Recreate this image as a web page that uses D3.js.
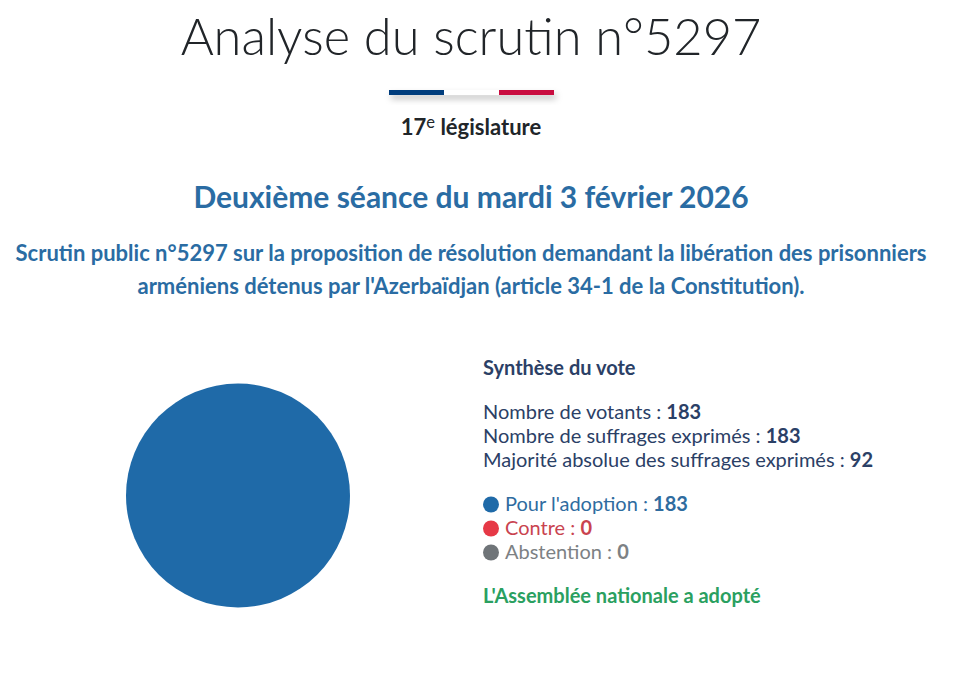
<!DOCTYPE html>
<html>
<head>
<meta charset="utf-8">
<script src="https://cdn.jsdelivr.net/npm/d3@7"></script>
<style>
html, body { margin: 0; background: #fff; }
svg { display: block; font-family: Lato, sans-serif; }
</style>
</head>
<body>
<div id="chart"></div>
<script>
// vote data
var voteLabels = ["Pour l'adoption", "Contre", "Abstention"];
var voteValues = [183, 0, 0];
var voteColors = ["#1f6aa8", "#e63946", "#6f7478"];
var voteTextColors = ["#2f6c9f", "#c9434f", "#7d8184"];

var synthLabels = ["Nombre de votants", "Nombre de suffrages exprimés", "Majorité absolue des suffrages exprimés"];
var synthValues = [183, 183, 92];

var flagColors = ["#023e7d", "#ffffff", "#c9093f"];

var svgWidth = 953;
var svgHeight = 694;

var svg = d3.select("#chart")
  .append("svg")
  .attr("width", svgWidth)
  .attr("height", svgHeight);

var defs = svg.append("defs");
var shadow = defs.append("filter").attr("id", "flagShadow")
  .attr("x", "-5%").attr("y", "-100%").attr("width", "110%").attr("height", "400%");
shadow.append("feDropShadow")
  .attr("dx", 2).attr("dy", 4).attr("stdDeviation", 3)
  .attr("flood-color", "#000").attr("flood-opacity", 0.25);

// title
svg.append("text")
  .attr("x", 471).attr("y", 55)
  .attr("text-anchor", "middle")
  .attr("font-size", 50.6)
  .attr("font-weight", 300)
  .attr("fill", "#212529")
  .text("Analyse du scrutin n°5297");

// little flag under the title
var flagX = d3.scaleBand().domain(d3.range(3)).range([389, 554]);
var flag = svg.append("g").attr("filter", "url(#flagShadow)");
flag.selectAll("rect")
  .data(flagColors)
  .enter()
  .append("rect")
  .attr("x", (d, i) => flagX(i))
  .attr("y", 90)
  .attr("width", flagX.bandwidth())
  .attr("height", 5)
  .attr("fill", d => d);

var legis = svg.append("text")
  .attr("x", 471).attr("y", 135)
  .attr("text-anchor", "middle")
  .attr("font-size", 22)
  .attr("font-weight", 700)
  .attr("fill", "#212529");
legis.append("tspan").text("17");
legis.append("tspan").attr("font-size", 16.5).attr("font-weight", 400).attr("dy", -7).text("e");
legis.append("tspan").attr("dy", 7).text(" législature");

svg.append("text")
  .attr("x", 471).attr("y", 208)
  .attr("text-anchor", "middle")
  .attr("font-size", 30)
  .attr("font-weight", 700)
  .attr("fill", "#2a6ca3")
  .text("Deuxième séance du mardi 3 février 2026");

svg.selectAll(".subject")
  .data(["Scrutin public n°5297 sur la proposition de résolution demandant la libération des prisonniers",
         "arméniens détenus par l'Azerbaïdjan (article 34-1 de la Constitution)."])
  .enter()
  .append("text")
  .attr("class", "subject")
  .attr("x", 471)
  .attr("y", (d, i) => 261 + i * 33)
  .attr("text-anchor", "middle")
  .attr("font-size", 22)
  .attr("font-weight", 700)
  .attr("fill", "#2a6ca3")
  .text(d => d);

// pie
var pie = d3.pie().sort(null);
var arc = d3.arc().innerRadius(0).outerRadius(112);
svg.append("g")
  .attr("transform", "translate(238,495.5)")
  .selectAll("path")
  .data(pie(voteValues))
  .enter()
  .append("path")
  .attr("d", arc)
  .attr("fill", (d, i) => voteColors[i]);

// summary block
var textX = 483;
svg.append("text")
  .attr("x", textX).attr("y", 375)
  .attr("font-size", 20)
  .attr("font-weight", 700)
  .attr("fill", "#2b4066")
  .text("Synthèse du vote");

var synth = svg.selectAll(".synth")
  .data(synthLabels)
  .enter()
  .append("text")
  .attr("class", "synth")
  .attr("x", textX)
  .attr("y", (d, i) => 419 + i * 24.2)
  .attr("font-size", 20)
  .attr("fill", "#2b4066");
synth.append("tspan").text(d => d + " : ");
synth.append("tspan").attr("font-weight", 700).text((d, i) => synthValues[i]);

// legend
var legend = svg.selectAll(".legend")
  .data(voteLabels)
  .enter()
  .append("g")
  .attr("class", "legend")
  .attr("transform", (d, i) => `translate(${textX}, ${511 + i * 24})`);
legend.append("circle")
  .attr("cx", 8).attr("cy", -6.5).attr("r", 8)
  .attr("fill", (d, i) => voteColors[i]);
var legendText = legend.append("text")
  .attr("x", 22)
  .attr("font-size", 20)
  .attr("fill", (d, i) => voteTextColors[i]);
legendText.append("tspan").text(d => d + " : ");
legendText.append("tspan").attr("font-weight", 700).text((d, i) => voteValues[i]);

svg.append("text")
  .attr("x", textX).attr("y", 603)
  .attr("font-size", 20)
  .attr("font-weight", 700)
  .attr("fill", "#2aa060")
  .text("L'Assemblée nationale a adopté");
</script>
</body>
</html>
